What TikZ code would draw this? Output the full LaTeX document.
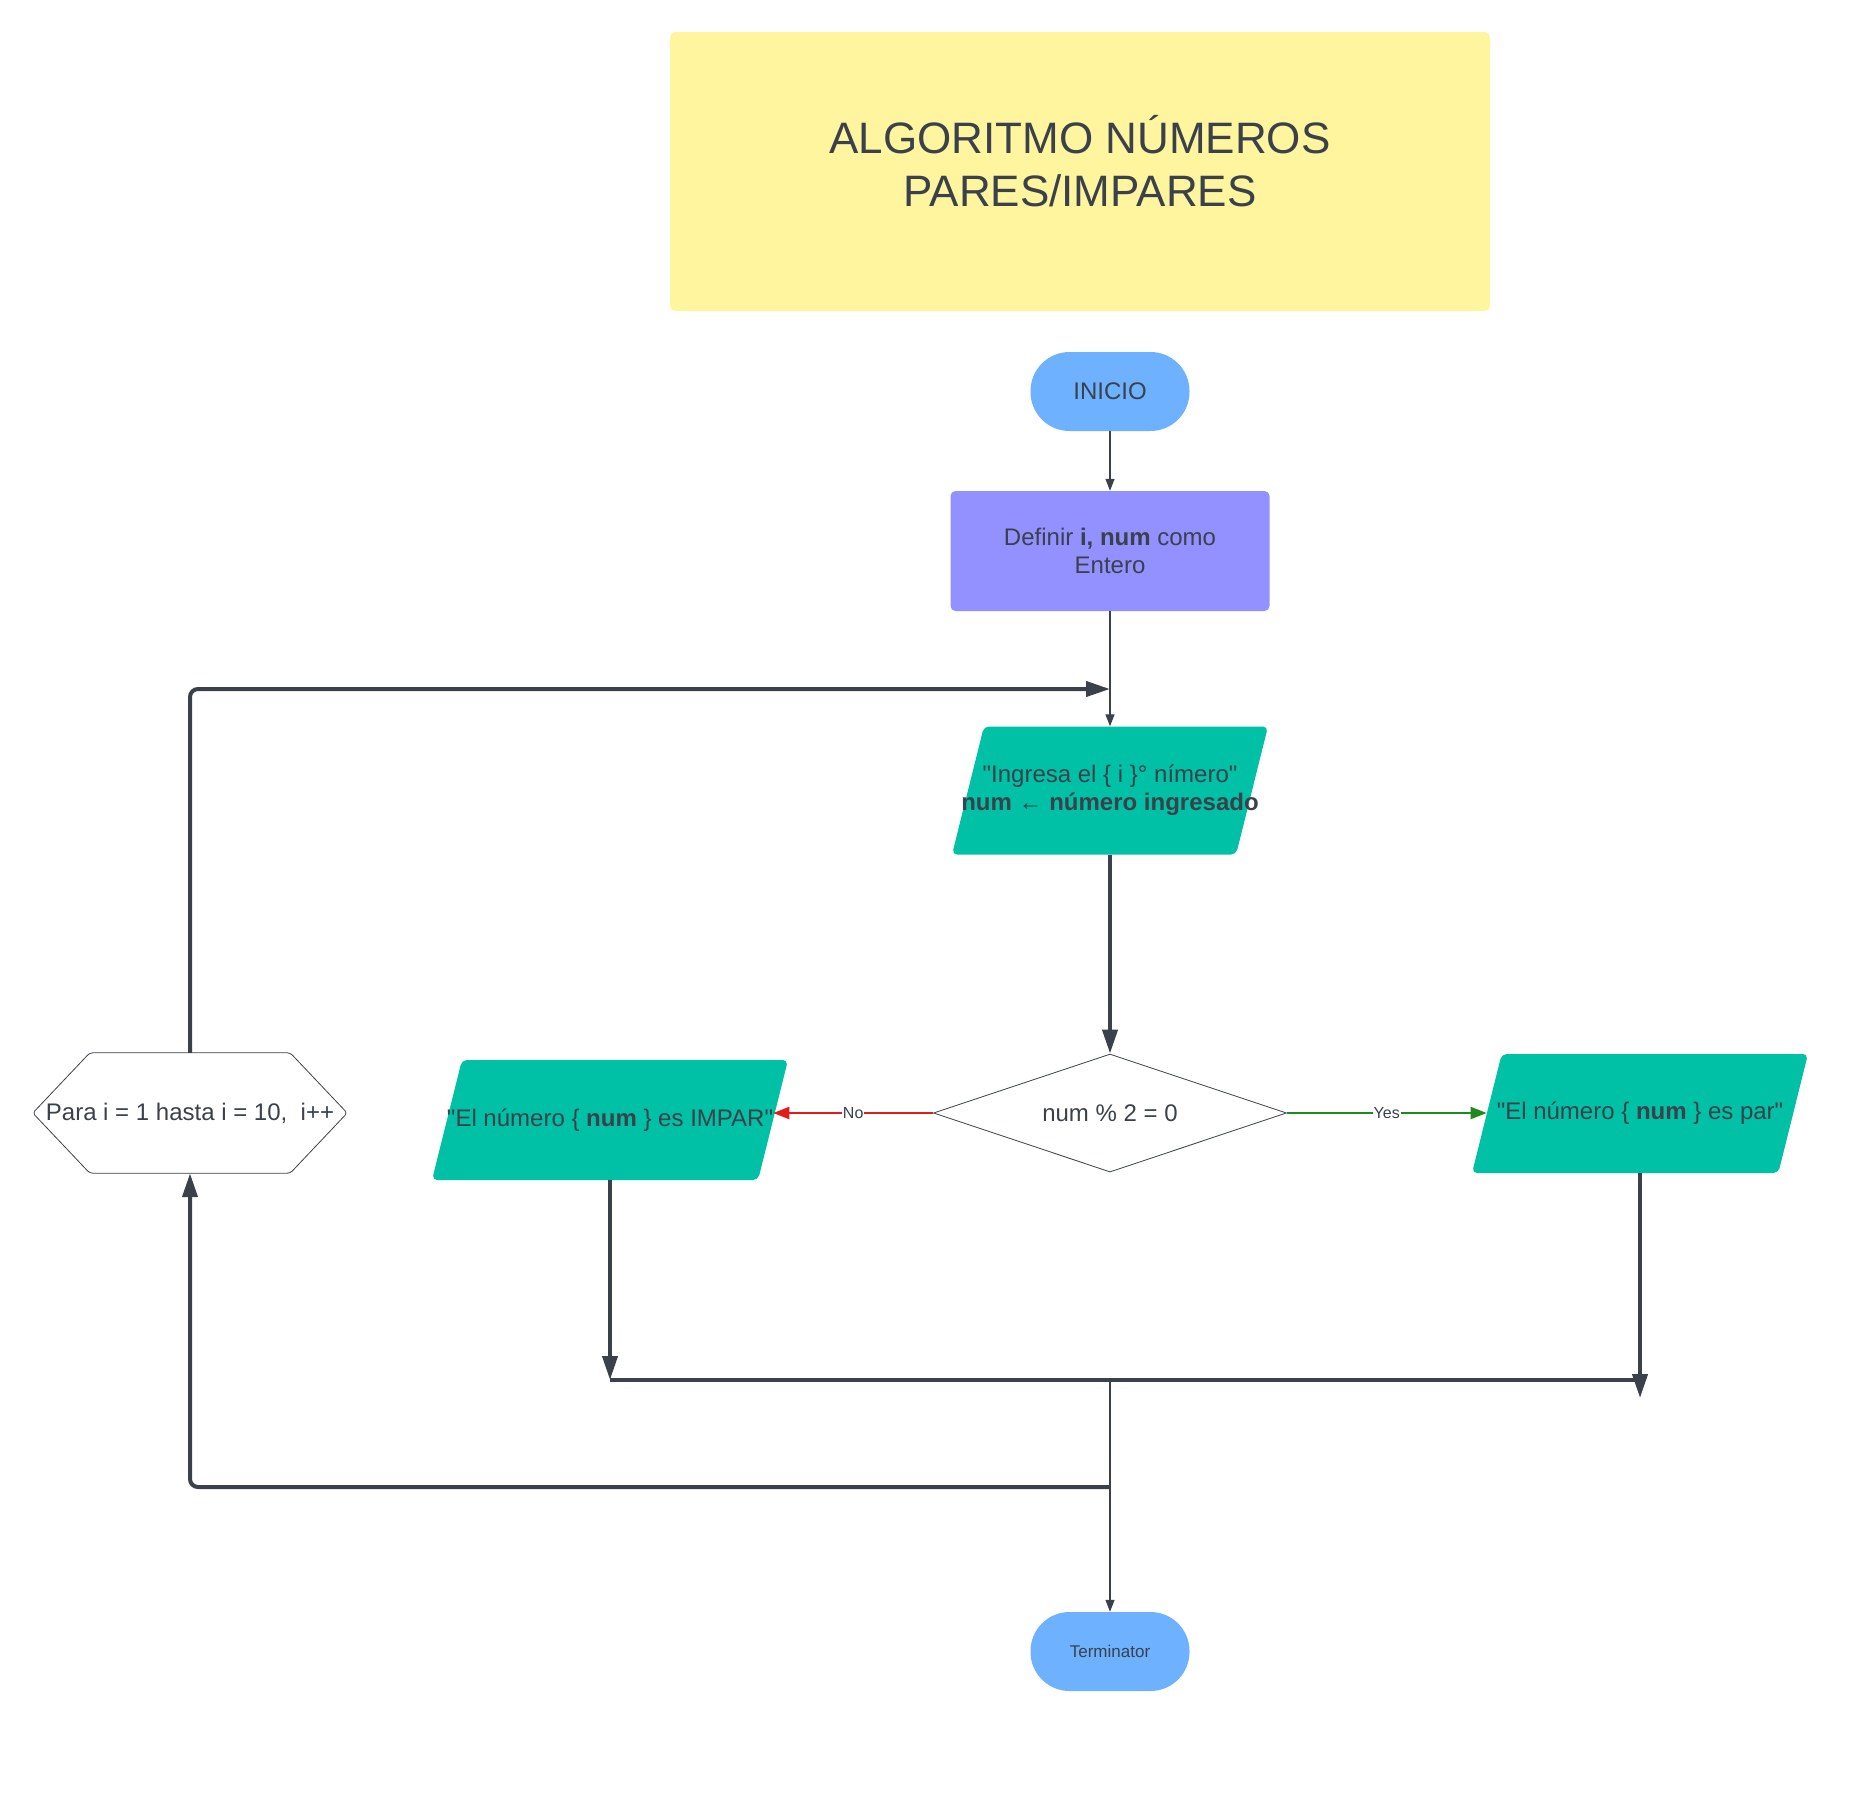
\documentclass[tikz,border=0pt]{standalone}
\usepackage{fontspec}
\setmainfont{Liberation Sans}
\usetikzlibrary{arrows.meta,positioning,shapes.geometric}
\definecolor{ink}{HTML}{3A414A}
\definecolor{titlebg}{HTML}{FFF59F}
\definecolor{termbg}{HTML}{6EB1FF}
\definecolor{procbg}{HTML}{9391FF}
\definecolor{iobg}{HTML}{00C0A6}
\definecolor{nored}{HTML}{E21B1B}
\definecolor{yesgreen}{HTML}{1E8A1E}
\newcommand{\q}{\textquotedbl}

\begin{document}
\begin{tikzpicture}[x=100pt, y=-100pt, font=\fontsize{24}{28}\selectfont, text=ink,
    term/.style={rectangle, rounded corners=39pt, fill=termbg, minimum width=159pt, minimum height=79pt},
    proc/.style={rectangle, rounded corners=5pt, fill=procbg, minimum width=319pt, minimum height=120pt, align=center},
    io/.style={trapezium, trapezium left angle=76, trapezium right angle=104, trapezium stretches body,
               rounded corners=5pt, fill=iobg, inner sep=0pt},
    iotext/.style={align=center, text=ink, font=\fontsize{24}{28}\selectfont},
    dec/.style={diamond, aspect=3, draw=ink, line width=0.8pt, fill=white, minimum width=353pt, minimum height=118pt, inner sep=0pt},
    loopbox/.style={minimum width=314pt, minimum height=120pt, inner sep=0pt},
    hexline/.style={draw=ink, line width=0.8pt, rounded corners=3pt},
    thin/.style={draw=ink, line width=1.3pt, -{Triangle[length=12pt, width=9pt]}},
    thick/.style={draw=ink, line width=4pt, -{Triangle[length=24pt, width=15pt]}},
    lab/.style={font=\fontsize{16}{18}\selectfont, text=ink, fill=white, inner sep=1pt}]
  \useasboundingbox (0,0) rectangle (18.70,18.04);
  % title
  \node[fill=titlebg, rounded corners=5pt, minimum width=820pt, minimum height=279pt,
        label={[align=center, font=\fontsize{44}{53}\selectfont, yshift=10pt]center:{ALGORITMO NÚMEROS\\PARES/IMPARES}}] (title) at (10.80,1.715) {};
  % main column
  \node[term] (inicio) at (11.10,3.915) {INICIO};
  \node[proc] (define) at (11.10,5.51) {Definir \textbf{i, num} como\\Entero};
  \node[io, minimum width=316pt,
        label={[iotext]center:{\q Ingresa el \{ i \}° nímero\q\\\textbf{num ← número ingresado}}}] (input) at (11.10,7.905) {\rule{0pt}{128pt}};
  \node[dec] (cond) at (11.10,11.13) {num \% 2 = 0};
  \node[io, minimum width=356pt, label={[iotext]center:{\q El número \{ \textbf{num} \} es IMPAR\q}}] (impar) at (6.10,11.20) {\rule{0pt}{120pt}};
  \node[io, minimum width=336pt, label={[iotext]center:{\q El número \{ \textbf{num} \} es par\q}}] (par) at (16.40,11.135) {\rule{0pt}{119pt}};
  % loop header
  \node[loopbox] (para) at (1.90,11.13) {Para i = 1 hasta i = 10,~ i++};
  \draw[hexline] (para.west) -- ([xshift=57pt]para.north west) -- ([xshift=-57pt]para.north east)
        -- (para.east) -- ([xshift=-57pt]para.south east) -- ([xshift=57pt]para.south west) -- cycle;
  \node[term, font=\fontsize{17}{20}\selectfont] (fin) at (11.10,16.515) {Terminator};
  % junctions
  \coordinate (top)   at (11.10,6.89);
  \coordinate (jl)    at (6.10,13.80);
  \coordinate (jr)    at (16.40,13.80);
  \coordinate (jrend) at (16.40,13.98);
  \coordinate (jm)    at (11.10,13.80);
  \coordinate (back)  at (11.10,14.87);

  \draw[thin] (inicio) -- (define);
  \draw[thin] (define) -- (input);
  \draw[thick] (input) -- (cond);
  \draw[nored, line width=2pt, -{Triangle[length=16pt, width=12pt]}] (cond.west) -- node[lab] {No} (cond.west -| impar.east);
  \draw[yesgreen, line width=2pt, -{Triangle[length=16pt, width=12pt]}] (cond.east) -- node[lab] {Yes} (cond.east -| par.west);
  \draw[thick] (impar) -- (jl);
  \draw[thick] (par) -- (jrend);
  \draw[draw=ink, line width=4pt] (jl) -- (jr);
  \draw[thin] (jm) -- (fin);
  \draw[thick, rounded corners=8pt] (back) -| (para);
  \draw[thick, rounded corners=8pt] (para) |- (top);
\end{tikzpicture}
\end{document}
